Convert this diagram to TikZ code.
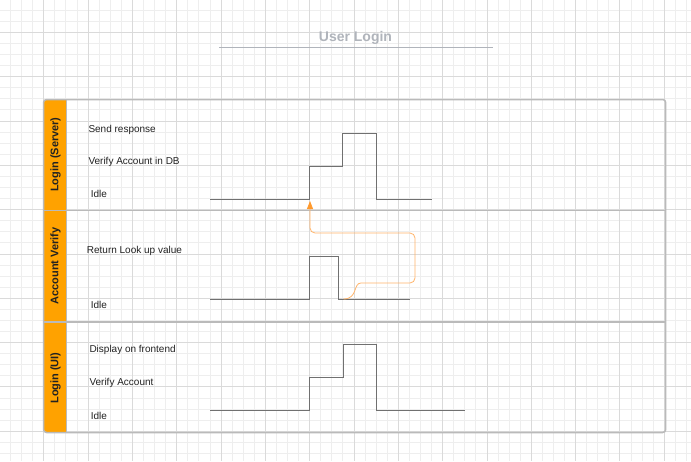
\documentclass[tikz,border=0pt]{standalone}
\usepackage{fontspec}
\setmainfont{Liberation Sans}
\usetikzlibrary{arrows.meta}
\definecolor{gridfine}{HTML}{EEEEEE}
\definecolor{gridheavy}{HTML}{DADADA}
\definecolor{laneorange}{HTML}{FFA200}
\definecolor{poolgray}{HTML}{BABABA}
\definecolor{wavegray}{HTML}{707070}
\definecolor{titlegray}{HTML}{B0B4BB}
\definecolor{linkorange}{HTML}{FFB56B}
\definecolor{tiporange}{HTML}{FF9A2E}
\definecolor{textdark}{HTML}{222222}
\tikzset{
  finegrid/.style={draw=gridfine, line width=0.8pt},
  heavygrid/.style={draw=gridheavy, line width=0.8pt},
  poolline/.style={draw=poolgray, line width=1.5pt},
  wave/.style={draw=wavegray, line width=0.9pt},
  statelabel/.style={anchor=base west, inner sep=0pt, font=\fontsize{10}{12}\selectfont, text=textdark},
  lanetitle/.style={rotate=90, inner sep=0pt, font=\fontsize{11}{13}\selectfont\bfseries, text=textdark},
  link/.style={draw=linkorange, line width=0.8pt, -{Triangle[length=8pt,width=6pt,fill=tiporange,color=tiporange]}}
}
\begin{document}
\begin{tikzpicture}[x=1pt,y=-1pt]
\useasboundingbox (0,0) rectangle (691,461);
\fill[white] (0,0) rectangle (691,461);
% grid
\foreach \k in {0,...,63} {
  \pgfmathsetmacro\xx{-0.6+11.08*\k}
  \draw[finegrid] (\xx,0) -- (\xx,461);
}
\foreach \k in {0,...,42} {
  \pgfmathsetmacro\yy{-0.94+11.08*\k}
  \draw[finegrid] (0,\yy) -- (691,\yy);
}
\foreach \k in {0,...,15} {
  \pgfmathsetmacro\xx{-0.6+44.32*\k}
  \draw[heavygrid] (\xx,0) -- (\xx,461);
}
\foreach \k in {0,...,10} {
  \pgfmathsetmacro\yy{32.3+44.32*(\k-1)}
  \draw[heavygrid] (0,\yy) -- (691,\yy);
}
% title
\node[anchor=base, inner sep=0pt, font=\fontsize{14}{16}\selectfont\bfseries, text=titlegray] (title) at (355.5,41.8) {User Login};
\coordinate (ul1) at (219.3,47.3);
\coordinate (ul2) at (492.7,47.3);
\draw[draw=titlegray, line width=1.4pt] (ul1) -- (ul2);
% pool header band
\fill[laneorange] (66.5,99.5) [rounded corners=3pt] -- (43.5,99.5) -- (43.5,432.5) [sharp corners] -- (66.5,432.5) -- cycle;
% pool outline
\draw[poolline, rounded corners=3pt] (43.5,99.5) rectangle (665.7,432.5);
\draw[poolline] (66.5,99.5) -- (66.5,432.5);
\draw[poolline] (43.5,210.5) -- (665.7,210.5);
\draw[poolline] (43.5,322) -- (665.7,322);
% lane titles
\node[lanetitle] (lane1) at (55.5,154.7) {Login (Server)};
\node[lanetitle] (lane2) at (55.5,266) {Account Verify};
\node[lanetitle] (lane3) at (55.5,378) {Login (UI)};
% state labels
\node[statelabel] (s1a) at (88.3,132.3) {Send response};
\node[statelabel] (s1b) at (88.3,164) {Verify Account in DB};
\node[statelabel] (s1c) at (90.7,197) {Idle};
\node[statelabel] (s2a) at (86.7,253) {Return Look up value};
\node[statelabel] (s2b) at (90.7,308) {Idle};
\node[statelabel] (s3a) at (89.3,352.3) {Display on frontend};
\node[statelabel] (s3b) at (89.3,385.6) {Verify Account};
\node[statelabel] (s3c) at (90.7,419) {Idle};
% waveforms
\draw[wave] (210,199.3) -- (309.7,199.3) -- (309.7,166) -- (342.3,166) -- (342.3,133) -- (376,133) -- (376,199.3) -- (431.7,199.3);
\draw[wave] (210,299) -- (309.5,299) -- (309.5,256) -- (338,256) -- (338,299) -- (409.5,299);
\draw[wave] (210,410.3) -- (309.7,410.3) -- (309.7,377.7) -- (343,377.7) -- (343,344.3) -- (376.3,344.3) -- (376.3,410.3) -- (465,410.3);
% connector
\coordinate (cstart) at (343.5,299);
\coordinate (cend) at (310,201);
\draw[link, rounded corners=5pt] (cstart) .. controls (358,299) and (353,283) .. (366,283) -- (415,283) -- (415,233) -- (310,233) -- (cend);
\end{tikzpicture}
\end{document}
